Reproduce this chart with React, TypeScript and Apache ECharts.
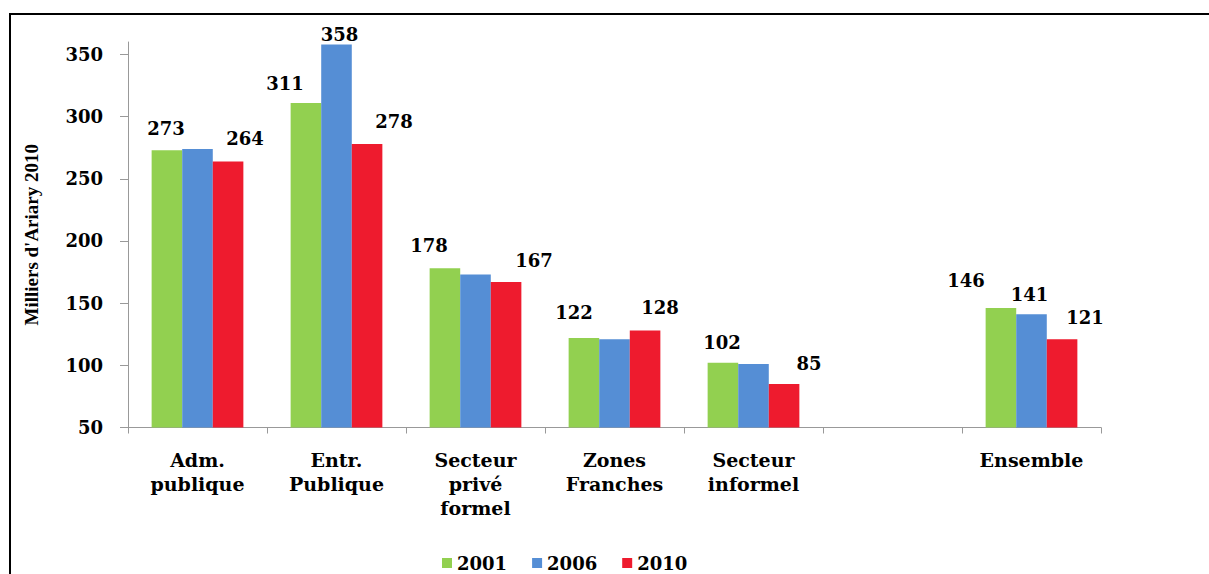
import React, { useEffect, useRef } from "react";
import * as echarts from "echarts";

const categories = ["Adm.\npublique", "Entr.\nPublique", "Secteur\nprivé\nformel", "Zones\nFranches", "Secteur\ninformel", "", "Ensemble"];
const seriesNames = ["2001", "2006", "2010"];
const values2001 = [273, 311, 178, 122, 102, null, 146];
const values2006 = [274, 358, 173, 121, 101, null, 141];
const values2010 = [264, 278, 167, 128, 85, null, 121];
const yTicks = [50, 100, 150, 200, 250, 300, 350];

// label placement (layout only): offset from bar top-centre, null = no label
const labelOffsets2001 = [[-1, -22], [-21, -19], [-16, -23], [-10, -25], [-1, -20], null, [-35, -28]];
const labelOffsets2006 = [null, [3, -10], null, null, null, null, [-2, -20]];
const labelOffsets2010 = [[17, -23], [27, -22], [28, -22], [15, -23], [25, -20], null, [23, -22]];

const colors = ["#92D050", "#558ED5", "#EE1B2E"];
const FONT = "DejaVu Serif";

function buildData(vals: (number | null)[], offs: (number[] | null)[]) {
  return vals.map((v, i) => {
    if (v == null) return "-";
    const o = offs[i];
    return {
      value: v,
      label: o ? { show: true, offset: o } : { show: false },
    };
  });
}

export default function App() {
  const ref = useRef<HTMLDivElement>(null);
  useEffect(() => {
    if (!ref.current) return;
    const chart = echarts.init(ref.current, null, { renderer: "svg" });
    const labelBase = {
      show: true,
      position: ["50%", 0],
      align: "center",
      verticalAlign: "middle",
      color: "#000",
      fontFamily: FONT,
      fontWeight: "bold",
      fontSize: 18,
    };
    const allVals = [values2001, values2006, values2010];
    const allOffs = [labelOffsets2001, labelOffsets2006, labelOffsets2010];
    chart.setOption({
      animation: false,
      backgroundColor: "#fff",
      graphic: [
        {
          type: "rect",
          shape: { x: 10, y: 14, width: 1400, height: 800 },
          style: { fill: "none", stroke: "#000", lineWidth: 2 },
          silent: true,
          z: 100,
        },
      ],
      legend: {
        left: 437,
        top: 549,
        itemWidth: 10,
        itemHeight: 10,
        itemGap: 25,
        icon: "rect",
        data: seriesNames,
        textStyle: { fontFamily: FONT, fontWeight: "bold", fontSize: 18, color: "#000" },
      },
      grid: { left: 128, right: 108, top: 42, bottom: 146.5, containLabel: false },
      xAxis: {
        type: "category",
        data: categories,
        axisLine: { lineStyle: { color: "#999", width: 1 } },
        axisTick: { show: true, alignWithLabel: false, interval: 0, length: 6, lineStyle: { color: "#999" } },
        axisLabel: {
          interval: 0,
          margin: 20,
          color: "#000",
          fontFamily: FONT,
          fontWeight: "bold",
          fontSize: 19,
          lineHeight: 24,
        },
      },
      yAxis: {
        type: "value",
        min: 50,
        max: 360,
        interval: 50,
        name: "Milliers d'Ariary 2010",
        nameLocation: "middle",
        nameGap: 87,
        nameRotate: 90,
        nameTextStyle: { fontFamily: "Liberation Serif", fontWeight: "bold", fontSize: 19, color: "#000" },
        axisLine: { show: true, lineStyle: { color: "#999", width: 1 } },
        axisTick: { show: true, length: 8, lineStyle: { color: "#999" }, customValues: yTicks },
        splitLine: { show: false },
        axisLabel: {
          margin: 25,
          color: "#000",
          fontFamily: FONT,
          fontWeight: "bold",
          fontSize: 18,
          customValues: yTicks,
          formatter: (v: number) => (v > 350 ? "" : String(v)),
        },
      },
      series: seriesNames.map((name, si) => ({
        name,
        type: "bar",
        barGap: "0%",
        barCategoryGap: "34%",
        itemStyle: { color: colors[si] },
        label: labelBase,
        data: buildData(allVals[si], allOffs[si]),
      })),
    });
    return () => chart.dispose();
  }, []);
  return <div ref={ref} style={{ position: "fixed", left: 0, top: 0, width: 1209, height: 574 }} />;
}
